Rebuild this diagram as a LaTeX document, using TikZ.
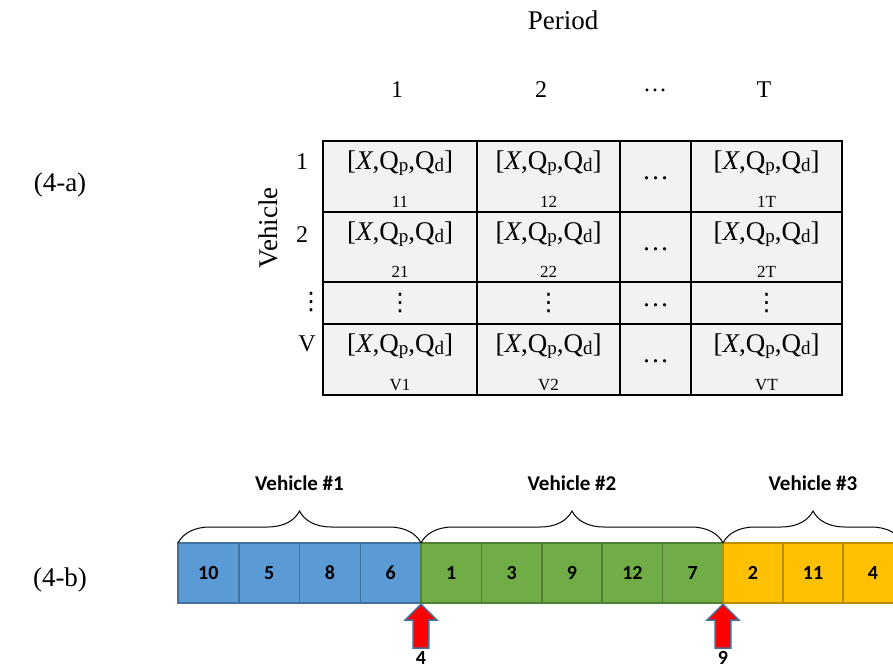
\documentclass[tikz,border=0pt]{standalone}
\usepackage{fontspec}
\setmainfont{Liberation Serif}
\newfontfamily\calibri{Carlito}
\newfontfamily\symfont{DejaVu Sans}
\usetikzlibrary{decorations.pathreplacing, shapes.arrows, positioning, calc}
\definecolor{cellgray}{HTML}{F2F2F2}
\definecolor{blueFill}{HTML}{5B9BD5}
\definecolor{blueLine}{HTML}{41719C}
\definecolor{greenFill}{HTML}{70AD47}
\definecolor{greenLine}{HTML}{507E32}
\definecolor{yellowFill}{HTML}{FFC000}
\definecolor{yellowLine}{HTML}{BC8C00}
\newcommand\subtxt[1]{\raisebox{-0.2ex}{\fontsize{19}{19}\selectfont #1}}
\newcommand\vtuple{[\textit{X},Q\subtxt{p},Q\subtxt{d}]}
\newcommand\tallvdots{{\symfont ⋮}}
\tikzset{
  gridcell/.style={rectangle, draw=black, line width=1.6pt, fill=cellgray, inner sep=0pt, outer sep=0pt},
  cellmain/.style={font=\fontsize{27}{29}\selectfont, inner sep=0pt},
  cellidx/.style={font=\fontsize{17}{18}\selectfont, inner sep=0pt},
  headtext/.style={font=\fontsize{24}{26}\selectfont, inner sep=0pt},
  bigtitle/.style={font=\fontsize{27}{29}\selectfont, inner sep=0pt},
  seqcell/.style={rectangle, minimum height=60pt, line width=1.5pt, inner sep=0pt, outer sep=0pt,
    font=\calibri\bfseries\fontsize{20}{22}\selectfont},
  seqblue/.style={seqcell, fill=blueFill, draw=blueLine, minimum width=60.75pt},
  seqgreen/.style={seqcell, fill=greenFill, draw=greenLine, minimum width=60.4pt},
  seqyellow/.style={seqcell, fill=yellowFill, draw=yellowLine, minimum width=60pt},
  vbrace/.style={decorate, decoration={brace, amplitude=32pt}, line width=1pt},
  vehname/.style={font=\calibri\bfseries\fontsize{21}{23}\selectfont, inner sep=0pt},
  uparrow/.style={single arrow, shape border rotate=90, draw=blueLine, fill=red, line width=1.5pt,
    minimum height=44pt, minimum width=32pt, single arrow head extend=8pt, inner sep=7pt},
}

\begin{document}
\begin{tikzpicture}[x=1pt, y=-1pt]
\useasboundingbox (0,0) rectangle (893,670);

% (4-a) table
\node[bigtitle] (lbla) at (60,185) {(4-a)};
\node[bigtitle] (period) at (563,20) {Period};
\node[headtext] (p1) at (397,90) {1};
\node[headtext] (p2) at (541,90) {2};
\node[headtext] (p3) at (655,90) {\dots};
\node[headtext] (pT) at (764,90) {T};

\node[bigtitle, rotate=90] (vehicle) at (268,228) {Vehicle};
\node[headtext] (v1) at (302,162) {1};
\node[headtext] (v2) at (302,235) {2};
\node[headtext] (v3) at (311,302) {\tallvdots};
\node[headtext] (vV) at (307,344) {V};

\foreach \c/\xa/\xb in {1/323/477,2/477/620,3/620/691,4/691/842}
  \foreach \r/\ya/\yb in {1/141/212,2/212/282,3/282/324,4/324/395}
    \node[gridcell, minimum width={\xb pt-\xa pt}, minimum height={\yb pt-\ya pt}]
      (c\r\c) at ({(\xa+\xb)/2},{(\ya+\yb)/2}) {};

\foreach \c/\cn in {1/1,2/2,4/T} {
  \foreach \r/\rn in {1/1,2/2,4/V} {
    \node[cellmain] at ($(c\r\c.north)+(0,22)$) {\vtuple};
    \node[cellidx] at ($(c\r\c.south)+(0,-10)$) {\rn\cn};
  }
  \node[headtext] at (c3\c) {\tallvdots};
}
\foreach \r in {1,2,3,4}
  \node[cellmain] at ($(c\r3)+(0,2)$) {\dots};

% (4-b) sequence
\node[bigtitle] (lblb) at (60,580) {(4-b)};

\node[seqblue, anchor=west] (b1) at (178,573) {10};
\node[seqblue, right=0pt of b1] (b2) {5};
\node[seqblue, right=0pt of b2] (b3) {8};
\node[seqblue, right=0pt of b3] (b4) {6};
\node[seqgreen, right=0pt of b4] (g1) {1};
\node[seqgreen, right=0pt of g1] (g2) {3};
\node[seqgreen, right=0pt of g2] (g3) {9};
\node[seqgreen, right=0pt of g3] (g4) {12};
\node[seqgreen, right=0pt of g4] (g5) {7};
\node[seqyellow, right=0pt of g5] (y1) {2};
\node[seqyellow, right=0pt of y1] (y2) {11};
\node[seqyellow, right=0pt of y2] (y3) {4};

\draw[vbrace] (b1.north west) -- (b4.north east);
\draw[vbrace] (g1.north west) -- (g5.north east);
\draw[vbrace] (y1.north west) -- (y3.north east);
\node[vehname] (veh1) at ($(b1.north west)!0.5!(b4.north east)+(0,-60)$) {Vehicle \#1};
\node[vehname] (veh2) at ($(g1.north west)!0.5!(g5.north east)+(0,-60)$) {Vehicle \#2};
\node[vehname] (veh3) at ($(y1.north west)!0.5!(y3.north east)+(0,-60)$) {Vehicle \#3};

\node[uparrow, anchor=tip] (cut1) at (b4.south east) {};
\node[uparrow, anchor=tip] (cut2) at (g5.south east) {};
\node[vehname, font=\calibri\bfseries\fontsize{20}{21}\selectfont] (n1) at ($(cut1.tail)+(0,9)$) {4};
\node[vehname, font=\calibri\bfseries\fontsize{20}{21}\selectfont] (n2) at ($(cut2.tail)+(0,9)$) {9};
\end{tikzpicture}
\end{document}
